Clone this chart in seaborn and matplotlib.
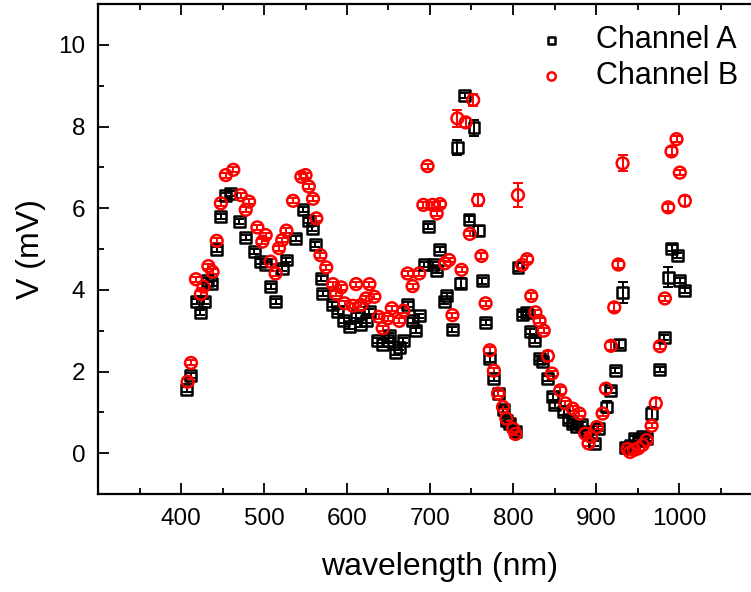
import matplotlib
matplotlib.use("Agg")
import matplotlib.pyplot as plt
import seaborn as sns
import pandas as pd
from matplotlib.ticker import MultipleLocator

# ---------------- data ----------------
wavelength_a = [
    407, 412, 419, 423, 428, 432, 437, 443, 448, 454,
    460, 470, 478, 488, 496, 502, 508, 514, 522, 527,
    538, 547, 553, 558, 562, 569, 571, 582, 589, 596,
    603, 611, 616, 623, 627, 637, 643, 649, 651, 658,
    663, 668, 673, 679, 683, 687, 693, 698, 704, 708,
    712, 717, 720, 727, 733, 737, 742, 747, 753, 758,
    763, 767, 772, 777, 782, 788, 792, 796, 803, 806,
    812, 816, 821, 826, 832, 836, 842, 848, 850, 861,
    867, 872, 877, 882, 889, 898, 903, 913, 918, 923,
    928, 932, 936, 941, 946, 951, 956, 961, 967, 977,
    982, 987, 991, 998, 1001, 1007]
voltage_a = [
    1.57, 1.91, 3.72, 3.45, 3.71, 4.24, 4.16, 4.98, 5.79, 6.32,
    6.36, 5.67, 5.29, 4.93, 4.69, 4.61, 4.08, 3.71, 4.53, 4.73,
    5.26, 5.96, 5.69, 5.51, 5.12, 4.28, 3.90, 3.64, 3.46, 3.26,
    3.11, 3.38, 3.14, 3.26, 3.48, 2.75, 2.65, 2.77, 2.89, 2.47,
    2.59, 2.77, 3.63, 3.26, 3.00, 3.36, 4.61, 5.55, 4.61, 4.47,
    4.99, 3.71, 3.85, 3.03, 7.48, 4.16, 8.77, 5.73, 7.97, 5.45,
    4.22, 3.20, 2.32, 1.83, 1.46, 1.08, 0.80, 0.73, 0.52, 4.55,
    3.40, 3.45, 2.97, 2.75, 2.32, 2.24, 1.83, 1.38, 1.18, 1.01,
    0.83, 0.73, 0.65, 0.71, 0.52, 0.24, 0.60, 1.13, 1.54, 2.03,
    2.67, 3.93, 0.15, 0.20, 0.35, 0.30, 0.40, 0.36, 0.97, 2.05,
    2.84, 4.31, 5.02, 4.83, 4.22, 3.98]
error_a = [
    0.06, 0.06, 0.06, 0.06, 0.06, 0.06, 0.06, 0.06, 0.06, 0.06,
    0.06, 0.06, 0.06, 0.06, 0.06, 0.06, 0.06, 0.06, 0.06, 0.06,
    0.06, 0.06, 0.06, 0.06, 0.06, 0.06, 0.06, 0.06, 0.06, 0.06,
    0.06, 0.06, 0.06, 0.06, 0.06, 0.06, 0.06, 0.06, 0.06, 0.06,
    0.06, 0.06, 0.06, 0.06, 0.06, 0.06, 0.06, 0.06, 0.06, 0.06,
    0.06, 0.06, 0.08, 0.06, 0.18, 0.12, 0.06, 0.08, 0.20, 0.12,
    0.08, 0.06, 0.08, 0.06, 0.06, 0.06, 0.06, 0.06, 0.06, 0.10,
    0.06, 0.06, 0.06, 0.06, 0.06, 0.06, 0.06, 0.08, 0.08, 0.08,
    0.08, 0.08, 0.06, 0.06, 0.06, 0.06, 0.06, 0.15, 0.06, 0.06,
    0.10, 0.25, 0.06, 0.06, 0.06, 0.06, 0.06, 0.06, 0.15, 0.06,
    0.06, 0.25, 0.08, 0.06, 0.06, 0.06]

wavelength_b = [
    408, 412, 418, 424, 427, 433, 438, 443, 448, 454,
    463, 472, 478, 482, 492, 498, 502, 508, 514, 518,
    522, 527, 535, 545, 550, 554, 559, 563, 568, 575,
    583, 587, 593, 597, 607, 611, 617, 623, 627, 633,
    638, 643, 649, 654, 663, 668, 673, 679, 687, 692,
    697, 703, 708, 712, 718, 723, 727, 733, 738, 743,
    748, 752, 758, 762, 767, 772, 777, 782, 788, 792,
    800, 803, 806, 811, 817, 822, 827, 832, 837, 842,
    847, 857, 863, 872, 880, 887, 891, 894, 901, 908,
    912, 918, 922, 927, 932, 938, 941, 946, 951, 956,
    961, 967, 972, 977, 983, 987, 991, 997, 1001, 1007]
voltage_b = [
    1.75, 2.21, 4.26, 3.90, 4.08, 4.58, 4.44, 5.20, 6.12, 6.81,
    6.94, 6.32, 5.96, 6.16, 5.53, 5.18, 5.34, 4.69, 4.40, 5.02,
    5.22, 5.45, 6.18, 6.77, 6.81, 6.53, 6.23, 5.75, 4.85, 4.55,
    4.14, 3.90, 4.06, 3.67, 3.61, 4.14, 3.63, 3.79, 4.14, 3.83,
    3.34, 3.06, 3.30, 3.55, 3.24, 3.49, 4.40, 4.09, 4.40, 6.08,
    7.03, 6.08, 5.87, 6.10, 4.65, 4.73, 3.38, 8.20, 4.49, 8.10,
    5.37, 8.65, 6.20, 4.83, 3.67, 2.52, 2.02, 1.46, 1.13, 0.85,
    0.60, 0.47, 6.32, 4.61, 4.75, 3.85, 3.45, 3.24, 3.00, 2.38,
    1.95, 1.54, 1.22, 1.09, 0.97, 0.48, 0.24, 0.40, 0.64, 0.97,
    1.58, 2.63, 3.57, 4.62, 7.10, 0.10, 0.03, 0.08, 0.12, 0.20,
    0.32, 0.67, 1.22, 2.62, 3.79, 6.02, 7.39, 7.69, 6.87, 6.18]
error_b = [
    0.06, 0.06, 0.06, 0.06, 0.06, 0.06, 0.06, 0.06, 0.06, 0.06,
    0.06, 0.06, 0.06, 0.06, 0.06, 0.06, 0.06, 0.06, 0.06, 0.06,
    0.06, 0.06, 0.06, 0.06, 0.06, 0.06, 0.06, 0.06, 0.06, 0.06,
    0.06, 0.06, 0.06, 0.06, 0.06, 0.06, 0.06, 0.06, 0.06, 0.06,
    0.06, 0.06, 0.06, 0.06, 0.06, 0.06, 0.06, 0.06, 0.06, 0.08,
    0.06, 0.08, 0.06, 0.08, 0.06, 0.06, 0.06, 0.20, 0.06, 0.10,
    0.06, 0.15, 0.15, 0.08, 0.06, 0.08, 0.06, 0.06, 0.06, 0.06,
    0.06, 0.06, 0.30, 0.08, 0.08, 0.08, 0.06, 0.06, 0.06, 0.12,
    0.06, 0.08, 0.06, 0.06, 0.06, 0.06, 0.06, 0.06, 0.06, 0.06,
    0.10, 0.10, 0.10, 0.08, 0.20, 0.06, 0.06, 0.06, 0.06, 0.06,
    0.06, 0.06, 0.12, 0.08, 0.06, 0.08, 0.10, 0.08, 0.06, 0.12]

label_a = "Channel A"
label_b = "Channel B"
x_ticks = [400, 500, 600, 700, 800, 900, 1000]
y_ticks = [0, 2, 4, 6, 8, 10]

df_a = pd.DataFrame({"wavelength": wavelength_a, "V": voltage_a, "err": error_a})
df_b = pd.DataFrame({"wavelength": wavelength_b, "V": voltage_b, "err": error_b})

# ---------------- figure ----------------
sns.set_theme(style="ticks")
plt.rcParams["font.family"] = ["Liberation Sans", "DejaVu Sans"]
plt.rcParams["text.color"] = "black"
plt.rcParams["axes.labelcolor"] = "black"

fig = plt.figure(figsize=(7.51, 5.92), dpi=100)
ax = fig.add_axes([98 / 751, 98 / 592, 664 / 751, 490 / 592])

for df, col in ((df_a, "black"), (df_b, "red")):
    ax.errorbar(df["wavelength"], df["V"], yerr=df["err"], fmt="none",
                ecolor=col, elinewidth=1.4, capsize=3.5, capthick=1.4, zorder=2)

sns.scatterplot(data=df_a, x="wavelength", y="V", ax=ax, marker="s", s=62,
                facecolors="none", edgecolor="black", linewidth=1.8,
                label=label_a, zorder=3)
sns.scatterplot(data=df_b, x="wavelength", y="V", ax=ax, marker="o", s=72,
                facecolors="none", edgecolor="red", linewidth=1.8,
                label=label_b, zorder=3)

ax.set_xlim(300, 1100)
ax.set_ylim(-1, 11)
ax.set_xticks(x_ticks)
ax.set_yticks(y_ticks)
ax.xaxis.set_minor_locator(MultipleLocator(50))
ax.yaxis.set_minor_locator(MultipleLocator(1))
ax.tick_params(which="both", direction="in", top=True, right=True,
               width=1.3, colors="black", labelsize=17.5)
ax.tick_params(axis="x", which="major", pad=10)
ax.tick_params(axis="y", which="major", pad=9)
ax.tick_params(which="major", length=8)
ax.tick_params(which="minor", length=4.5)
for sp in ax.spines.values():
    sp.set_linewidth(1.6)
    sp.set_color("black")

ax.set_xlabel("wavelength (nm)", fontsize=23, color="black")
ax.set_ylabel("V (mV)", fontsize=23, labelpad=9, color="black")
ax.xaxis.set_label_coords(0.515, -0.15, transform=ax.transAxes)
ax.xaxis.label.set_va("center")

ax.legend(loc="upper left", bbox_to_anchor=(0.605, 1.0), frameon=False,
          fontsize=22, markerscale=0.7, handletextpad=0.45,
          labelspacing=0.2, borderaxespad=0.3)

fig.savefig("out.png", dpi=100)
